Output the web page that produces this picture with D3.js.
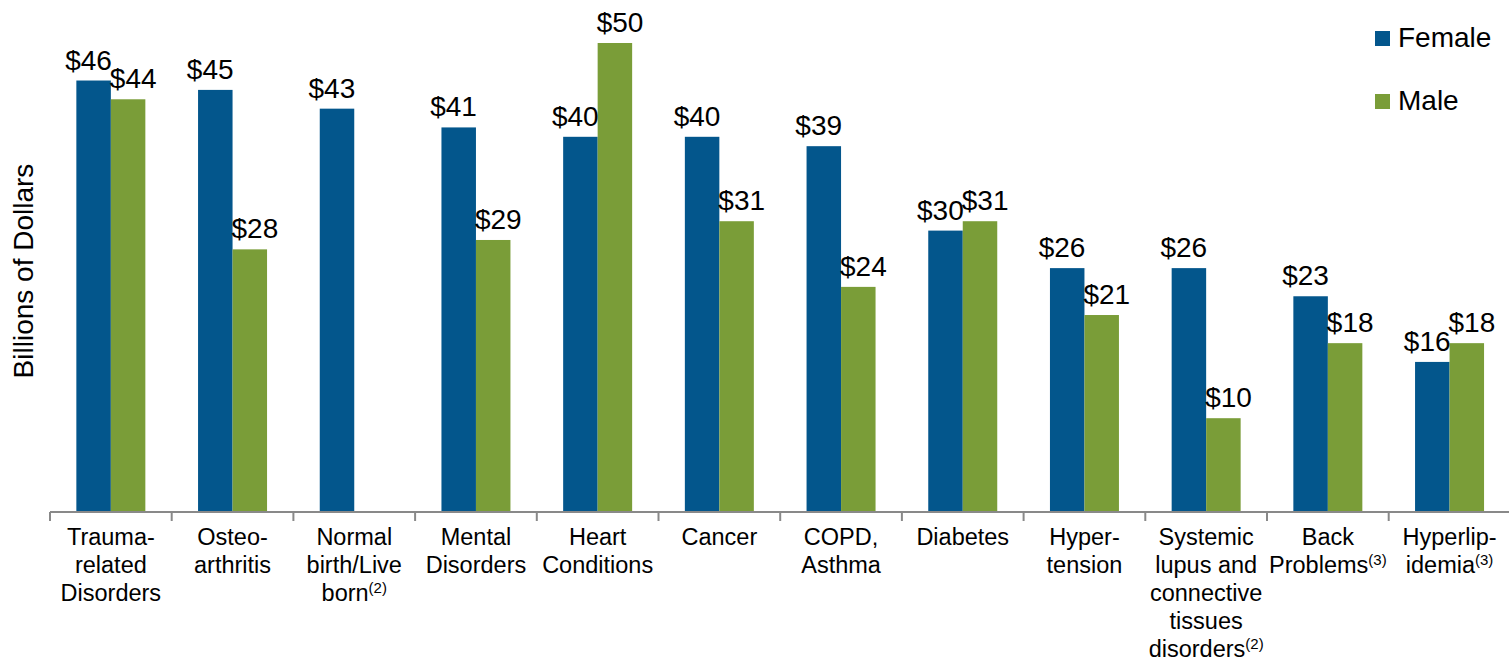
<!DOCTYPE html>
<html>
<head>
<meta charset="utf-8">
<script src="https://cdn.jsdelivr.net/npm/d3@7"></script>
<style>
  body { margin: 0; background: #fff; }
  text { font-family: "Liberation Sans", Arial, sans-serif; fill: #000; }
</style>
</head>
<body>
<div id="chart"></div>
<script>
// categories, each as its wrapped label lines
const categories = ["Trauma-related Disorders", "Osteo-arthritis", "Normal birth/Live born",
  "Mental Disorders", "Heart Conditions", "Cancer", "COPD, Asthma", "Diabetes",
  "Hyper-tension", "Systemic lupus and connective tissues disorders", "Back Problems", "Hyperlip-idemia"];
const labelLines = [
  ["Trauma-", "related", "Disorders"],
  ["Osteo-", "arthritis"],
  ["Normal", "birth/Live", "born"],
  ["Mental", "Disorders"],
  ["Heart", "Conditions"],
  ["Cancer"],
  ["COPD,", "Asthma"],
  ["Diabetes"],
  ["Hyper-", "tension"],
  ["Systemic", "lupus and", "connective", "tissues", "disorders"],
  ["Back", "Problems"],
  ["Hyperlip-", "idemia"]
];
const footnotes = ["", "", "(2)", "", "", "", "", "", "", "(2)", "(3)", "(3)"];

const seriesNames = ["Female", "Male"];
const female = [46, 45, 43, 41, 40, 40, 39, 30, 26, 26, 23, 16];
const male = [44, 28, null, 29, 50, 31, 24, 31, 21, 10, 18, 18];
const colors = ["#03568C", "#7A9D38"];

const width = 1509, height = 662;
const svg = d3.select("#chart").append("svg")
  .attr("width", width)
  .attr("height", height);

const baseY = 512;
const x0 = d3.scaleBand().domain(categories).range([50, 50 + 12 * 121.7]).padding(0);
const x1 = d3.scaleBand().domain(seriesNames).range([0, x0.bandwidth()]).paddingInner(0).paddingOuter(0.764);
const y = d3.scaleLinear().domain([0, 50]).range([baseY, 43]);

const rows = categories.map((c, i) => ({ cat: c, i, vals: [female[i], male[i]] }));

// bars
const groups = svg.selectAll(".grp").data(rows).enter().append("g")
  .attr("class", "grp")
  .attr("transform", d => `translate(${x0(d.cat)},0)`);

groups.selectAll("rect")
  .data(d => d.vals.map((v, k) => ({ s: seriesNames[k], v, k })).filter(e => e.v != null))
  .enter().append("rect")
  .attr("x", e => x1(e.s))
  .attr("width", x1.bandwidth())
  .attr("y", e => y(e.v))
  .attr("height", e => baseY - y(e.v))
  .attr("fill", e => colors[e.k]);

// value labels (female ones end at the bar's right edge, male ones start at its left edge)
groups.selectAll(".val")
  .data(d => d.vals.map((v, k) => ({ s: seriesNames[k], v, k })).filter(e => e.v != null))
  .enter().append("text")
  .attr("class", "val")
  .attr("x", e => e.k === 0 ? x1(e.s) + x1.bandwidth() + 1 : x1(e.s) - 1)
  .attr("y", e => y(e.v) - 11)
  .attr("text-anchor", e => e.k === 0 ? "end" : "start")
  .style("font-size", "28px")
  .text(e => "$" + e.v);

// x axis
svg.append("line")
  .attr("x1", x0.range()[0]).attr("x2", x0.range()[1])
  .attr("y1", baseY).attr("y2", baseY)
  .attr("stroke", "#898989").attr("stroke-width", 2);

svg.selectAll(".tick").data(categories).enter().append("line")
  .attr("class", "tick")
  .attr("x1", d => x0(d)).attr("x2", d => x0(d))
  .attr("y1", baseY).attr("y2", baseY + 9)
  .attr("stroke", "#898989").attr("stroke-width", 2);

// category labels
const catText = svg.selectAll(".cat").data(rows).enter().append("text")
  .attr("class", "cat")
  .attr("text-anchor", "middle")
  .style("font-size", "23.5px")
  .attr("transform", d => `translate(${x0(d.cat) + x0.bandwidth() / 2},545)`);

catText.each(function (d) {
  const t = d3.select(this);
  const lines = labelLines[d.i];
  lines.forEach((ln, j) => {
    const last = j === lines.length - 1;
    if (last && footnotes[d.i]) {
      const tt = t.append("tspan").attr("x", 0).attr("y", j * 28.1);
      tt.append("tspan").text(ln);
      tt.append("tspan").attr("dy", -8).style("font-size", "15px").text(footnotes[d.i]);
    } else {
      t.append("tspan").attr("x", 0).attr("y", j * 28.1).text(ln);
    }
  });
});

// y axis title
svg.append("text")
  .attr("transform", "translate(33,271) rotate(-90)")
  .attr("text-anchor", "middle")
  .style("font-size", "28px")
  .text("Billions of Dollars");

// legend
const legend = svg.selectAll(".leg").data(seriesNames).enter().append("g")
  .attr("class", "leg")
  .attr("transform", (d, i) => `translate(1375,${31 + i * 63})`);
legend.append("rect").attr("width", 15).attr("height", 15).attr("fill", (d, i) => colors[i]);
legend.append("text").attr("x", 23).attr("y", 16).style("font-size", "28px").text(d => d);
</script>
</body>
</html>
